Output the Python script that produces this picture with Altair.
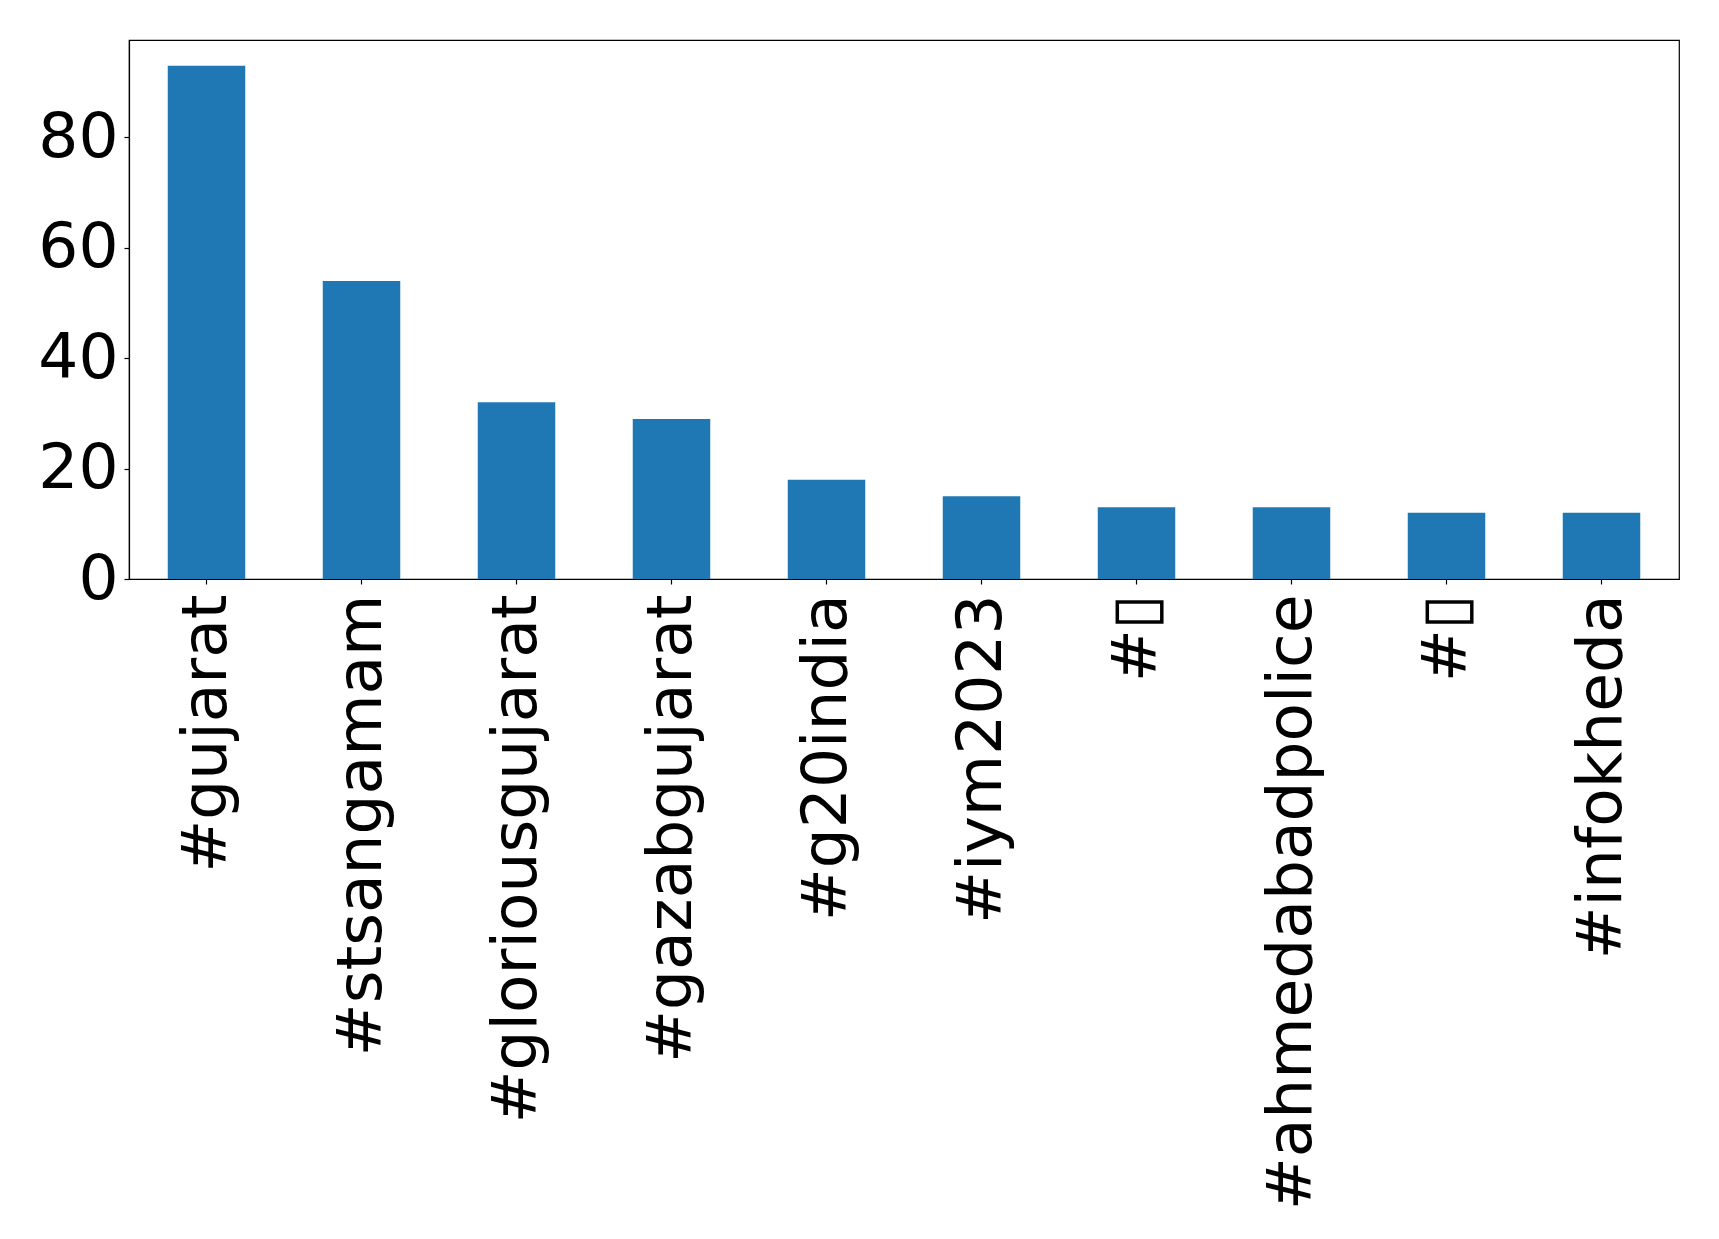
import altair as alt
import pandas as pd

hashtags = ["#gujarat", "#stsangamam", "#gloriousgujarat", "#gazabgujarat", "#g20india",
            "#iym2023", "#\u25af", "#ahmedabadpolice", "#\u25af\u200b", "#infokheda"]
counts = [93, 54, 32, 29, 18, 15, 13, 13, 12, 12]
y_ticks = [0, 20, 40, 60, 80]

df = pd.DataFrame({"tag": hashtags, "count": counts})

FONT = "DejaVu Sans"
FS = 63

chart = alt.Chart(df).mark_bar(color="#1f77b4").encode(
    x=alt.X("tag:N", sort=None, title=None,
            scale=alt.Scale(paddingInner=0.5, paddingOuter=0.25),
            axis=alt.Axis(labelAngle=270, labelFont=FONT, labelFontSize=FS,
                          labelColor="black", labelPadding=10, tickSize=5,
                          tickColor="black", domainColor="black", labelLimit=0,
                          labelExpr="replace(datum.label, '\u200b', '')")),
    y=alt.Y("count:Q", title=None,
            scale=alt.Scale(domain=[0, 97.65], nice=False, zero=True),
            axis=alt.Axis(values=y_ticks, grid=False, labelFont=FONT, labelFontSize=FS,
                          labelColor="black", labelPadding=6, tickSize=5,
                          tickColor="black", domainColor="black")),
).properties(
    width=1550, height=539,
    autosize=alt.AutoSizeParams(type="none"),
    padding={"left": 121, "top": 32, "right": 30, "bottom": 655},
).configure_view(stroke="black", strokeWidth=1.2
).configure_axis(domainWidth=1.2, tickWidth=1.2)

chart.save("out.html", embed_options={"renderer": "svg", "actions": False})
